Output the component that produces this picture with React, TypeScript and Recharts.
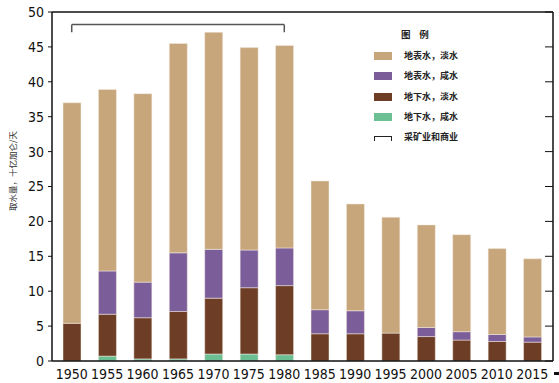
import { ComposedChart, Bar, Line, XAxis, YAxis, ReferenceLine } from "recharts";

// ─── Data (十亿加仑/天) ───────────────────────────────────────────────────────

const years = ["1950", "1955", "1960", "1965", "1970", "1975", "1980", "1985", "1990", "1995", "2000", "2005", "2010", "2015"];
const groundSaline  = [0,    0.7,  0.3,  0.3,  1.0,  1.0,  0.9,  0,    0,    0,    0,    0,    0,    0];
const groundFresh   = [5.4,  6.0,  5.9,  6.8,  8.0,  9.5,  9.9,  3.9,  3.9,  4.0,  3.5,  3.0,  2.8,  2.7];
const surfaceSaline = [0,    6.2,  5.1,  8.4,  7.0,  5.4,  5.4,  3.45, 3.3,  0,    1.3,  1.2,  1.0,  0.75];
const surfaceFresh  = [31.6, 26.0, 27.0, 30.0, 31.1, 29.0, 29.0, 18.45, 15.3, 16.6, 14.7, 13.9, 12.3, 11.2];
const yTicks = [0, 5, 10, 15, 20, 25, 30, 35, 40, 45, 50];

const COLORS = {
  surfaceFresh: "#C7A67B",
  surfaceSaline: "#7B5D99",
  groundFresh: "#6D3D25",
  groundSaline: "#6CBE93",
};

const LEGEND = [
  { label: "地表水，淡水", color: COLORS.surfaceFresh },
  { label: "地表水，咸水", color: COLORS.surfaceSaline },
  { label: "地下水，淡水", color: COLORS.groundFresh },
  { label: "地下水，咸水", color: COLORS.groundSaline },
];

const NUM_FONT = "'Liberation Sans Narrow', 'DejaVu Sans Condensed', Arial, sans-serif";
const CJK_FONT = "'Noto Sans CJK SC', sans-serif";

export default function App() {
  const data = years.map((y, i) => ({
    year: y,
    groundSaline: groundSaline[i],
    groundFresh: groundFresh[i],
    surfaceSaline: surfaceSaline[i],
    surfaceFresh: surfaceFresh[i],
  }));

  const tickStyle = { fill: "#111", fontSize: 14, fontFamily: NUM_FONT };

  return (
    <div style={{ position: "absolute", left: 0, top: 0, width: 559, height: 383, background: "#fff" }}>
      <ComposedChart
        width={559}
        height={383}
        data={data}
        margin={{ top: 12, right: 0, bottom: 0, left: 0 }}
        barSize={18}
      >
        <XAxis
          dataKey="year"
          tick={tickStyle}
          tickLine={false}
          tickSize={5}
          tickMargin={3}
          height={22}
          axisLine={{ stroke: "#111", strokeWidth: 1.5 }}
          padding={{ left: 2, right: 3 }}
          interval={0}
        />
        <YAxis
          yAxisId="l"
          domain={[0, 50]}
          ticks={yTicks}
          width={52}
          tick={tickStyle}
          tickSize={4}
          tickMargin={4}
          tickLine={{ stroke: "#111" }}
          axisLine={{ stroke: "#111", strokeWidth: 1.5 }}
          interval={0}
        />
        {/* right-hand frame: ticks point inward */}
        <YAxis
          yAxisId="r"
          orientation="right"
          domain={[0, 50]}
          ticks={yTicks}
          width={6}
          tickSize={-8}
          tick={() => <g />}
          tickLine={{ stroke: "#111" }}
          axisLine={{ stroke: "#111", strokeWidth: 1.5 }}
          interval={0}
        />
        <ReferenceLine yAxisId="l" y={50} stroke="#111" strokeWidth={1.5} />
        <Bar yAxisId="l" dataKey="groundSaline" stackId="w" fill={COLORS.groundSaline} stroke="#f4ede4" strokeWidth={0.5} isAnimationActive={false} />
        <Bar yAxisId="l" dataKey="groundFresh" stackId="w" fill={COLORS.groundFresh} stroke="#f4ede4" strokeWidth={0.5} isAnimationActive={false} />
        <Bar yAxisId="l" dataKey="surfaceSaline" stackId="w" fill={COLORS.surfaceSaline} stroke="#f4ede4" strokeWidth={0.5} isAnimationActive={false} />
        <Bar yAxisId="l" dataKey="surfaceFresh" stackId="w" fill={COLORS.surfaceFresh} stroke="#f4ede4" strokeWidth={0.5} isAnimationActive={false} />
        {/* invisible series bound to the right-hand axis */}
        <Line yAxisId="r" dataKey="groundSaline" stroke="none" dot={false} activeDot={false} isAnimationActive={false} legendType="none" />
        {/* 采矿业和商业 bracket */}
        <ReferenceLine yAxisId="l" segment={[{ x: "1950", y: 48.2 }, { x: "1980", y: 48.2 }]} stroke="#555" strokeWidth={1.5} />
        <ReferenceLine yAxisId="l" segment={[{ x: "1950", y: 48.2 }, { x: "1950", y: 47.1 }]} stroke="#555" strokeWidth={1.5} />
        <ReferenceLine yAxisId="l" segment={[{ x: "1980", y: 48.2 }, { x: "1980", y: 47.1 }]} stroke="#555" strokeWidth={1.5} />
      </ComposedChart>

      {/* Y axis title */}
      <div style={{
        position: "absolute", left: 12, top: 171, transform: "translate(-50%, -50%) rotate(-90deg)",
        whiteSpace: "nowrap", fontSize: 8.5, color: "#333", fontFamily: CJK_FONT,
      }}>
        取水量，十亿加仑/天
      </div>

      {/* Legend */}
      <div style={{ position: "absolute", left: 401, top: 27, fontSize: 9.5, color: "#222", fontFamily: CJK_FONT, fontWeight: 700 }}>
        图&nbsp;&nbsp;&nbsp;&nbsp;例
      </div>
      {LEGEND.map((l, i) => (
        <div key={l.label} style={{ position: "absolute", left: 374, top: 52 + i * 20.4, display: "flex", alignItems: "center" }}>
          <span style={{ width: 18, height: 8, background: l.color, display: "inline-block" }} />
          <span style={{ marginLeft: 12, fontSize: 9, color: "#222", fontFamily: CJK_FONT, fontWeight: 700, lineHeight: "8px" }}>{l.label}</span>
        </div>
      ))}
      <div style={{ position: "absolute", left: 374, top: 133, display: "flex", alignItems: "center" }}>
        <span style={{ width: 16, height: 4, borderTop: "1.5px solid #222", borderLeft: "1.5px solid #222", borderRight: "1.5px solid #222", display: "inline-block", marginTop: 2 }} />
        <span style={{ marginLeft: 12, fontSize: 9, color: "#222", fontFamily: CJK_FONT, fontWeight: 700, lineHeight: "8px" }}>采矿业和商业</span>
      </div>

      {/* small mark at bottom right */}
      <div style={{ position: "absolute", left: 554, top: 372, width: 5, height: 3, background: "#111" }} />
    </div>
  );
}
